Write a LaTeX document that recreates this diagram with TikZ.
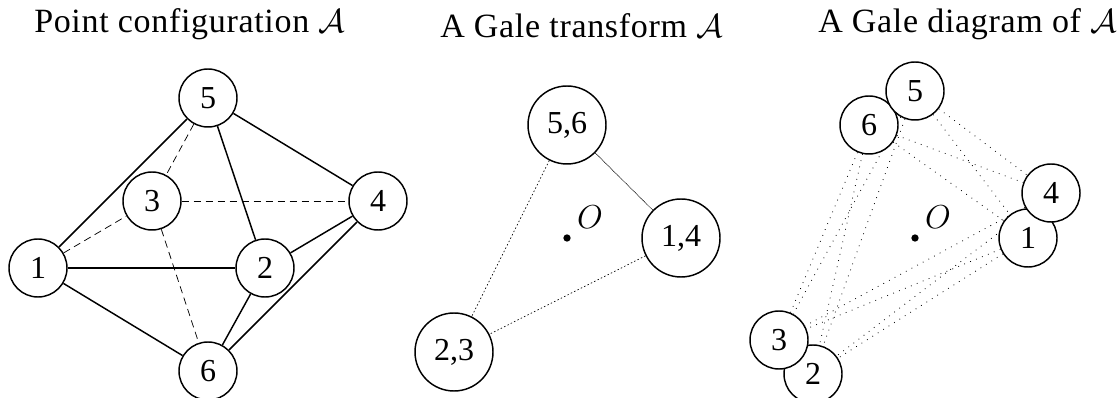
\documentclass[tikz,border=0pt]{standalone}
\usepackage{fontspec}
\setmainfont{Liberation Serif}
\newfontfamily\titlefont[LetterSpace=2]{Liberation Serif}
\usetikzlibrary{backgrounds}
\tikzset{
    pt/.style={circle, draw, fill=white, line width=1.1pt, inner sep=0pt, minimum size=43.5pt, font=\fontsize{24}{26}\selectfont},
    bigpt/.style={pt, minimum size=58.5pt},
    edge/.style={line width=1.1pt},
    hidden/.style={line width=0.55pt, dash pattern=on 5.5pt off 3.5pt},
    gale/.style={line width=0.6pt, dash pattern=on 0.6pt off 4.2pt},
    galefine/.style={line width=0.5pt, dash pattern=on 1.1pt off 1.7pt},
    title/.style={anchor=base west, inner sep=0pt, font=\titlefont\fontsize{25.5}{28}\selectfont},
    dotpt/.style={circle, fill, inner sep=0pt, minimum size=5.5pt},
    lbl/.style={inner sep=0pt, font=\fontsize{25}{26}\selectfont},
}
\begin{document}
\begin{tikzpicture}[x=0.75pt, y=-0.75pt]
        \useasboundingbox (0,0) rectangle (1120,398);
        % titles
        \node[title] (tleft) at (34,33) {Point configuration $\mathcal{A}$};
        \node[title] (tmid) at (440,38) {A Gale transform $\mathcal{A}$};
        \node[title] (tright) at (818,33) {A Gale diagram of $\mathcal{A}$};
        % point configuration
        \foreach \n/\x/\y in {1/38/268, 2/265/268, 3/152/201, 4/378/201, 5/208/98, 6/208/371} {
            \node[pt] (p\n) at (\x,\y) {\n};
        }
        \foreach \a/\b in {1/5, 1/2, 1/6, 5/2, 5/4, 2/4, 2/6, 4/6} {
            \draw[edge] (p\a) -- (p\b);
        }
        \foreach \a/\b in {1/3, 5/3, 3/4, 3/6} {
            \draw[hidden] (p\a) -- (p\b);
        }
        % gale transform
        \node[bigpt] (m56) at (567,125) {5,6};
        \node[bigpt] (m14) at (681,238) {1,4};
        \node[bigpt] (m23) at (454,352) {2,3};
        \node[dotpt] (mo) at (567,238) {};
        \node[lbl] (mol) at (590,217) {$O$};
        \draw[galefine, dash pattern=on 0.7pt off 0.5pt] (m56) -- (m14);
        \draw[galefine] (m56) -- (m23);
        \draw[galefine] (m14) -- (m23);
        % gale diagram
        \foreach \n/\x/\y in {2/813/374, 3/779/340, 6/869/125, 5/915/91, 1/1028/238, 4/1051/193} {
            \node[pt] (g\n) at (\x,\y) {\n};
        }
        \node[dotpt] (go) at (915,238) {};
        \node[lbl] (gol) at (938,217) {$O$};
        \begin{scope}[on background layer]
            \foreach \a in {5,6} {
                \foreach \b in {1,2,3,4} {
                    \draw[gale] (g\a) -- (g\b);
                }
            }
            \foreach \a in {1,4} {
                \foreach \b in {2,3} {
                    \draw[gale] (g\a) -- (g\b);
                }
            }
        \end{scope}
    \end{tikzpicture}
\end{document}
